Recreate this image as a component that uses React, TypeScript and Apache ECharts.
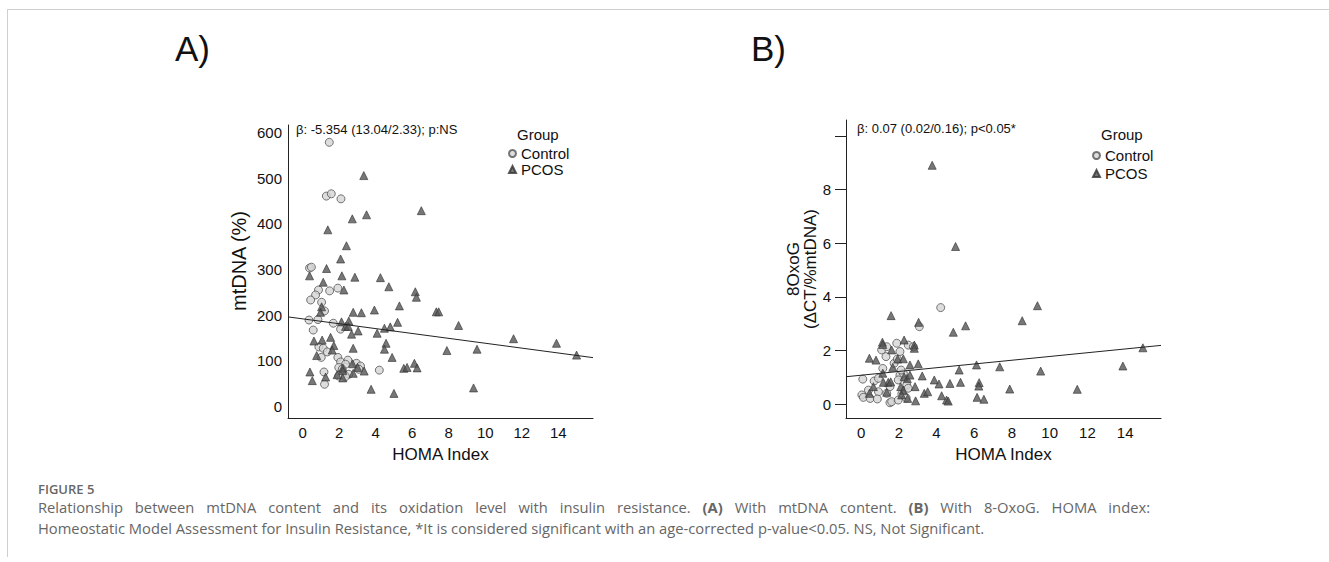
import React, { useEffect, useRef } from "react";
import * as echarts from "echarts";

// ---- Data ----
const xTicks = [0, 2, 4, 6, 8, 10, 12, 14];
const yTicksA = [0, 100, 200, 300, 400, 500, 600];
const yLabelsB = [0, 2, 4, 6, 8];
const yTicksB = [0, 2, 4, 6, 8, 10];

const xRange = [-0.8, 15.9];
const yRangeA = [-26, 617];
const yRangeB = [-0.52, 10.6];

// Panel A: HOMA index vs mtDNA (%)
const controlA = [
  [1.46, 579], [1.3, 461], [1.57, 466], [2.1, 455], [0.38, 303], [0.48, 305],
  [0.87, 255], [0.71, 244], [0.44, 233], [1.48, 253], [1.93, 259], [1.04, 228], [1.2, 209],
  [0.35, 189], [0.84, 190], [0.58, 167], [1.68, 182], [2.08, 169],
  [0.89, 130], [1.13, 127], [1.35, 119], [1.02, 107], [1.93, 107], [2.08, 97], [2.48, 101], [2.35, 92],
  [2.95, 94], [3.17, 88], [1.98, 85], [2.17, 81], [2.53, 70], [3.08, 81], [4.2, 79], [1.17, 75], [1.2, 48],
  [1.98, 66], [2.35, 65],
];
const pcosA = [
  [3.35, 506], [6.5, 429], [2.72, 411], [3.5, 420], [1.38, 387], [2.4, 352], [2.08, 323], [1.31, 302],
  [0.38, 286], [2.15, 286], [2.86, 283], [4.26, 282], [1.13, 272], [4.72, 262],
  [2.26, 255], [6.17, 251], [6.23, 239], [5.3, 220], [3.93, 211], [2.77, 206], [3.22, 205], [1.04, 218], [0.98, 206],
  [5.2, 184], [2.13, 185], [2.53, 187], [2.35, 175], [2.5, 175], [3.04, 165], [2.68, 158], [4.08, 160], [4.48, 171], [4.8, 174],
  [0.62, 143], [1.07, 145], [1.53, 151], [4.57, 138], [4.48, 125], [1.71, 133], [1.62, 123], [2.77, 127], [0.77, 111], [4.9, 107],
  [2.74, 93], [3.01, 85], [3.37, 77], [2.2, 84], [2.2, 78], [0.4, 75], [0.53, 56], [1.26, 64], [1.89, 69], [2.2, 62], [2.77, 72],
  [3.75, 37], [5.0, 28], [6.12, 94], [5.54, 83], [5.72, 85], [6.27, 84],
  [7.32, 207], [7.45, 207], [8.54, 177], [11.55, 148], [13.9, 138], [15.0, 112], [7.9, 122], [9.55, 125], [9.36, 40],
];

// Panel B: HOMA index vs 8OxoG
const controlB = [
  [4.22, 3.6], [3.09, 2.89], [1.09, 2.02], [1.36, 2.14], [1.89, 2.27], [2.06, 1.96], [2.5, 2.2], [2.77, 2.14],
  [1.32, 1.77], [1.15, 1.33], [1.75, 1.52], [1.92, 1.68], [0.09, 0.93], [0.69, 0.86], [0.92, 0.96],
  [0.92, 0.46], [0.39, 0.52], [0.04, 0.34], [0.12, 0.25], [0.48, 0.21], [0.86, 0.19], [1.53, 0.05], [1.62, 0.09], [1.97, 0.15],
  [1.36, 0.4], [1.53, 0.65], [2.06, 1.08], [2.24, 1.15], [1.97, 0.9], [2.42, 0.71], [2.5, 0.59], [2.16, 0.38], [2.39, 0.23], [2.12, 1.27],
];
const pcosB = [
  [3.77, 8.91], [5.01, 5.88], [1.59, 3.3], [3.05, 3.05], [4.89, 2.68], [5.54, 2.92], [8.54, 3.11], [9.35, 3.67],
  [1.13, 2.31], [1.15, 2.22], [0.44, 1.71], [0.79, 1.64], [1.62, 2.02], [2.28, 2.39], [2.82, 2.2], [2.82, 2.08],
  [1.94, 1.68], [2.24, 1.69], [1.68, 1.37], [2.59, 1.46], [3.03, 1.5], [1.15, 1.15], [3.24, 1.05], [5.2, 1.27], [6.12, 1.46], [7.35, 1.39],
  [2.28, 1.02], [2.45, 0.95], [2.59, 1.08], [3.88, 0.9], [4.13, 0.75], [4.71, 0.77], [5.27, 0.81], [6.26, 0.8], [6.24, 0.67], [7.88, 0.56],
  [1.44, 0.81], [1.57, 0.83], [0.65, 0.65], [1.18, 0.81], [0.44, 0.4], [1.36, 0.44], [2.1, 0.65], [2.24, 0.52], [2.15, 0.34], [2.47, 0.21],
  [2.86, 0.65], [3.35, 0.4], [3.53, 0.46], [2.89, 0.12], [4.27, 0.31], [4.53, 0.15], [4.62, 0.11], [6.15, 0.25], [6.51, 0.18],
  [9.52, 1.23], [11.46, 0.55], [13.88, 1.42], [14.94, 2.1],
];

const fitA = { intercept: 191.6, slope: -5.354 };
const fitB = { intercept: 1.076, slope: 0.07 };

const annotA = "β: -5.354 (13.04/2.33); p:NS";
const annotB = "β: 0.07 (0.02/0.16); p<0.05*";
const captionWords1 = [
  "Relationship", "between", "mtDNA", "content", "and", "its", "oxidation", "level", "with", "insulin",
  "resistance.", "(A)", "With", "mtDNA", "content.", "(B)", "With", "8-OxoG.", "HOMA", "index:",
];
const boldWords = ["(A)", "(B)"];
const captionLine2 =
  "Homeostatic Model Assessment for Insulin Resistance, *It is considered significant with an age-corrected p-value<0.05. NS, Not Significant.";

const FONT = "Liberation Sans, Arial, sans-serif";
const CAP_FONT = "Open Sans, Noto Sans, sans-serif";
const AXIS_COLOR = "#222";
const CAP_COLOR = "#666";
const CTRL_STYLE = { color: "#d4d4d4", borderColor: "#555", borderWidth: 1 };
const PCOS_STYLE = { color: "#555", borderColor: "#333", borderWidth: 0.8 };

function fitLine(fit: { intercept: number; slope: number }) {
  return xRange.map((x) => [x, fit.intercept + fit.slope * x]);
}

function measurer() {
  const ctx = document.createElement("canvas").getContext("2d") as CanvasRenderingContext2D;
  return (text: string, size: number, weight: string | number = "normal") => {
    ctx.font = `${weight} ${size}px "Open Sans"`;
    return ctx.measureText(text).width;
  };
}

// Caption: the first line is justified (as in the source page), the last line is not.
function captionGraphics() {
  const measure = measurer();
  const left = 38;
  const line2Target = 947;
  let size = 15 * line2Target / measure(captionLine2, 15);
  if (!isFinite(size) || size < 13 || size > 17) size = 15;
  const line1Right = 1150;
  const widths = captionWords1.map((w) => measure(w, size, boldWords.includes(w) ? "bold" : "normal"));
  const total = widths.reduce((a, b) => a + b, 0);
  const gap = (line1Right - left - total) / (captionWords1.length - 1);
  const els: any[] = [];
  let x = left;
  captionWords1.forEach((w, i) => {
    els.push({
      type: "text", x, y: 507,
      style: {
        text: w, fontFamily: CAP_FONT, fontSize: size, fill: CAP_COLOR, verticalAlign: "middle",
        fontWeight: boldWords.includes(w) ? "bold" : "normal",
      },
    });
    x += widths[i] + gap;
  });
  els.push({ type: "text", x: left, y: 528, style: { text: captionLine2, fontFamily: CAP_FONT, fontSize: size, fill: CAP_COLOR, verticalAlign: "middle" } });
  els.push({ type: "text", x: left, y: 489, style: { text: "FIGURE 5", fontFamily: CAP_FONT, fontSize: 13, fontWeight: 600, fill: CAP_COLOR, verticalAlign: "middle" } });
  return els;
}

export default function App() {
  const ref = useRef<HTMLDivElement>(null);
  useEffect(() => {
    if (!ref.current) return;
    const chart = echarts.init(ref.current, null, { renderer: "svg" });

    const xAxisCommon = (gridIndex: number) => ({
      type: "value",
      gridIndex,
      min: xRange[0],
      max: xRange[1],
      name: "HOMA Index",
      nameLocation: "middle",
      nameGap: 28,
      nameTextStyle: { fontFamily: FONT, fontSize: 17, color: "#111" },
      splitLine: { show: false },
      axisLine: { onZero: false, lineStyle: { color: AXIS_COLOR, width: 1 } },
      axisTick: { show: false },
      axisLabel: { customValues: xTicks, fontFamily: FONT, fontSize: 15, color: "#111", margin: 7 },
    });

    const legendData = [
      { name: "Control", icon: "circle" },
      { name: "PCOS", icon: "triangle" },
    ];

    const option: any = {
      animation: false,
      grid: [
        { left: 288, top: 125, width: 305, height: 293 },
        { left: 846, top: 120, width: 315, height: 298 },
      ],
      xAxis: [xAxisCommon(0), xAxisCommon(1)],
      yAxis: [
        {
          type: "value",
          gridIndex: 0,
          min: yRangeA[0],
          max: yRangeA[1],
          splitLine: { show: false },
          axisLine: { show: true, onZero: false, lineStyle: { color: AXIS_COLOR, width: 1 } },
          axisTick: { show: false },
          axisLabel: { customValues: yTicksA, fontFamily: FONT, fontSize: 15, color: "#111", margin: 6 },
        },
        {
          type: "value",
          gridIndex: 1,
          min: yRangeB[0],
          max: yRangeB[1],
          name: "8OxoG\n(ΔCT/%mtDNA)",
          nameLocation: "middle",
          nameGap: 20,
          nameTextStyle: { fontFamily: FONT, fontSize: 17, color: "#111", lineHeight: 17 },
          splitLine: { show: false },
          axisLine: { show: true, onZero: false, lineStyle: { color: AXIS_COLOR, width: 1 } },
          axisTick: { show: true, customValues: yTicksB, length: 11, lineStyle: { color: AXIS_COLOR } },
          axisLabel: { customValues: yLabelsB, fontFamily: FONT, fontSize: 15, color: "#111", margin: 15 },
        },
      ],
      legend: [
        {
          orient: "vertical", left: 508, top: 146, padding: 0,
          itemWidth: 7, itemHeight: 7, itemGap: 1,
          textStyle: { fontFamily: FONT, fontSize: 15, color: "#111" },
          data: legendData, selectedMode: false,
        },
        {
          orient: "vertical", left: 1092, top: 148, padding: 0,
          itemWidth: 7, itemHeight: 7, itemGap: 3,
          textStyle: { fontFamily: FONT, fontSize: 15, color: "#111" },
          data: legendData, selectedMode: false,
        },
      ],
      series: [
        { name: "Control", type: "scatter", xAxisIndex: 0, yAxisIndex: 0, symbol: "circle", symbolSize: 8, itemStyle: CTRL_STYLE, data: controlA, z: 3 },
        { name: "PCOS", type: "scatter", xAxisIndex: 0, yAxisIndex: 0, symbol: "triangle", symbolSize: 8, itemStyle: PCOS_STYLE, data: pcosA, z: 4 },
        { type: "line", xAxisIndex: 0, yAxisIndex: 0, symbol: "none", lineStyle: { color: "#222", width: 1 }, data: fitLine(fitA), z: 5, silent: true },
        { name: "Control", type: "scatter", xAxisIndex: 1, yAxisIndex: 1, symbol: "circle", symbolSize: 8, itemStyle: CTRL_STYLE, data: controlB, z: 3 },
        { name: "PCOS", type: "scatter", xAxisIndex: 1, yAxisIndex: 1, symbol: "triangle", symbolSize: 8, itemStyle: PCOS_STYLE, data: pcosB, z: 4 },
        { type: "line", xAxisIndex: 1, yAxisIndex: 1, symbol: "none", lineStyle: { color: "#222", width: 1 }, data: fitLine(fitB), z: 5, silent: true },
      ],
      graphic: [
        { type: "line", shape: { x1: 7, y1: 9.5, x2: 1329, y2: 9.5 }, style: { stroke: "#cfcfcf", lineWidth: 1 } },
        { type: "line", shape: { x1: 7.5, y1: 9, x2: 7.5, y2: 557 }, style: { stroke: "#cfcfcf", lineWidth: 1 } },
        { type: "text", x: 175, y: 48, style: { text: "A)", fontFamily: FONT, fontSize: 35, fill: "#111", verticalAlign: "middle" } },
        { type: "text", x: 751, y: 48, style: { text: "B)", fontFamily: FONT, fontSize: 35, fill: "#111", verticalAlign: "middle" } },
        {
          type: "text", x: 239, y: 261, rotation: Math.PI / 2,
          style: { text: "mtDNA (%)", fontFamily: FONT, fontSize: 20, fill: "#111", align: "center", verticalAlign: "middle" },
        },
        { type: "text", x: 296, y: 129, style: { text: annotA, fontFamily: FONT, fontSize: 13, fill: "#111", verticalAlign: "middle" } },
        { type: "text", x: 857, y: 128, style: { text: annotB, fontFamily: FONT, fontSize: 13, fill: "#111", verticalAlign: "middle" } },
        { type: "text", x: 517, y: 134, style: { text: "Group", fontFamily: FONT, fontSize: 15, fill: "#111", verticalAlign: "middle" } },
        { type: "text", x: 1101, y: 134, style: { text: "Group", fontFamily: FONT, fontSize: 15, fill: "#111", verticalAlign: "middle" } },
        ...captionGraphics(),
      ],
    };
    chart.setOption(option);
    return () => chart.dispose();
  }, []);
  return <div ref={ref} style={{ position: "absolute", left: 0, top: 0, width: 1329, height: 562, background: "#fff" }} />;
}
